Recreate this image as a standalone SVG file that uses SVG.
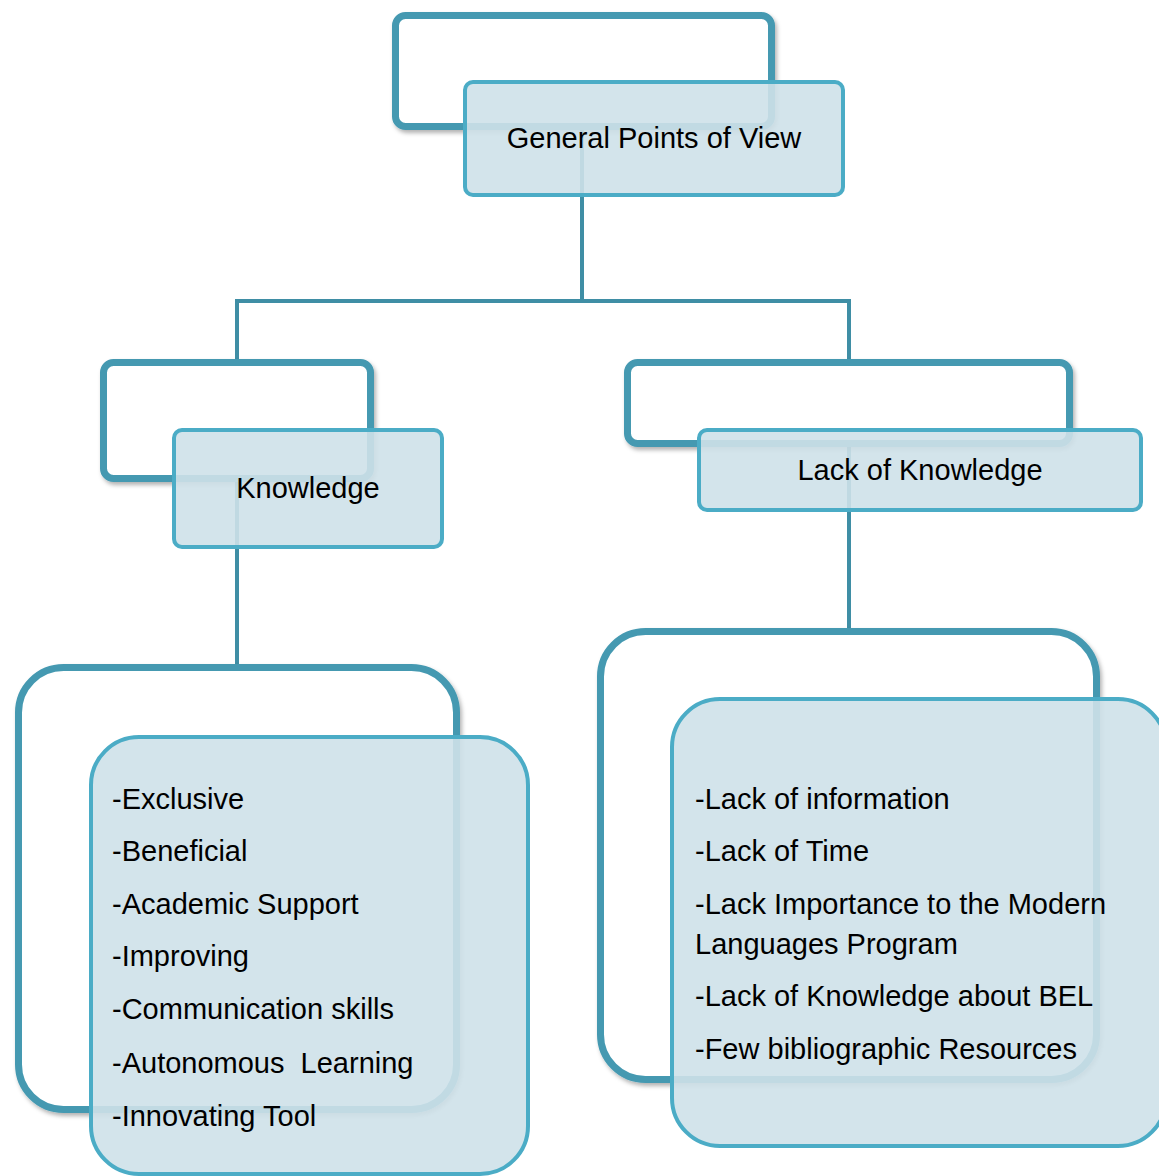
<svg xmlns="http://www.w3.org/2000/svg" width="1159" height="1176" viewBox="0 0 1159 1176">
<defs>
<filter id="sh" x="-10%" y="-10%" width="130%" height="130%">
<feDropShadow dx="2" dy="3" stdDeviation="2" flood-color="#000" flood-opacity="0.3"/>
</filter>
<style>
.back{fill:#ffffff;stroke:#4599b1;stroke-width:7;filter:url(#sh)}
.front{fill:#cee1e9;fill-opacity:0.9;stroke:#4bacc6;stroke-width:4}
.conn{stroke:#3f8ea5;stroke-width:4;fill:none}
.t{font-family:'Liberation Sans',Arial,sans-serif;font-size:29px;fill:#000}
.c{text-anchor:middle}
</style>
</defs>
<rect width="1159" height="1176" fill="#ffffff"/>
<g id="connectors">
<path class="conn" d="M582 130 V301 M237 359 V301 H849 V359"/>
<path class="conn" d="M237 482 V664"/>
<path class="conn" d="M849 447 V628"/>
</g>
<g id="node-general">
<rect class="back" x="395.5" y="15.5" width="376" height="111" rx="10"/>
<rect class="front" x="465" y="82" width="378" height="113" rx="8"/>
<text class="t c" x="654" y="148">General Points of View</text>
</g>
<g id="node-knowledge">
<rect class="back" x="103.5" y="362.5" width="267" height="116" rx="10"/>
<rect class="front" x="174" y="430" width="268" height="117" rx="8"/>
<text class="t c" x="308" y="498">Knowledge</text>
</g>
<g id="node-lack">
<rect class="back" x="627.5" y="362.5" width="442" height="81" rx="10"/>
<rect class="front" x="699" y="430" width="442" height="80" rx="8"/>
<text class="t c" x="920" y="480">Lack of Knowledge</text>
</g>
<g id="node-knowledge-items">
<rect class="back" x="18.5" y="667.5" width="438" height="442" rx="45"/>
<rect class="front" x="91" y="737" width="437" height="437" rx="48"/>
<text class="t" x="112" y="809">-Exclusive</text>
<text class="t" x="112" y="861">-Beneficial</text>
<text class="t" x="112" y="914">-Academic Support</text>
<text class="t" x="112" y="966">-Improving</text>
<text class="t" x="112" y="1019">-Communication skills</text>
<text class="t" x="112" y="1073" xml:space="preserve">-Autonomous  Learning</text>
<text class="t" x="112" y="1126">-Innovating Tool</text>
</g>
<g id="node-lack-items">
<rect class="back" x="600.5" y="631.5" width="496" height="448" rx="45"/>
<rect class="front" x="672" y="699" width="494" height="447" rx="48"/>
<text class="t" x="695" y="809">-Lack of information</text>
<text class="t" x="695" y="861">-Lack of Time</text>
<text class="t" x="695" y="914">-Lack Importance to the Modern</text>
<text class="t" x="695" y="954">Languages Program</text>
<text class="t" x="695" y="1006">-Lack of Knowledge about BEL</text>
<text class="t" x="695" y="1059">-Few bibliographic Resources</text>
</g>
</svg>
